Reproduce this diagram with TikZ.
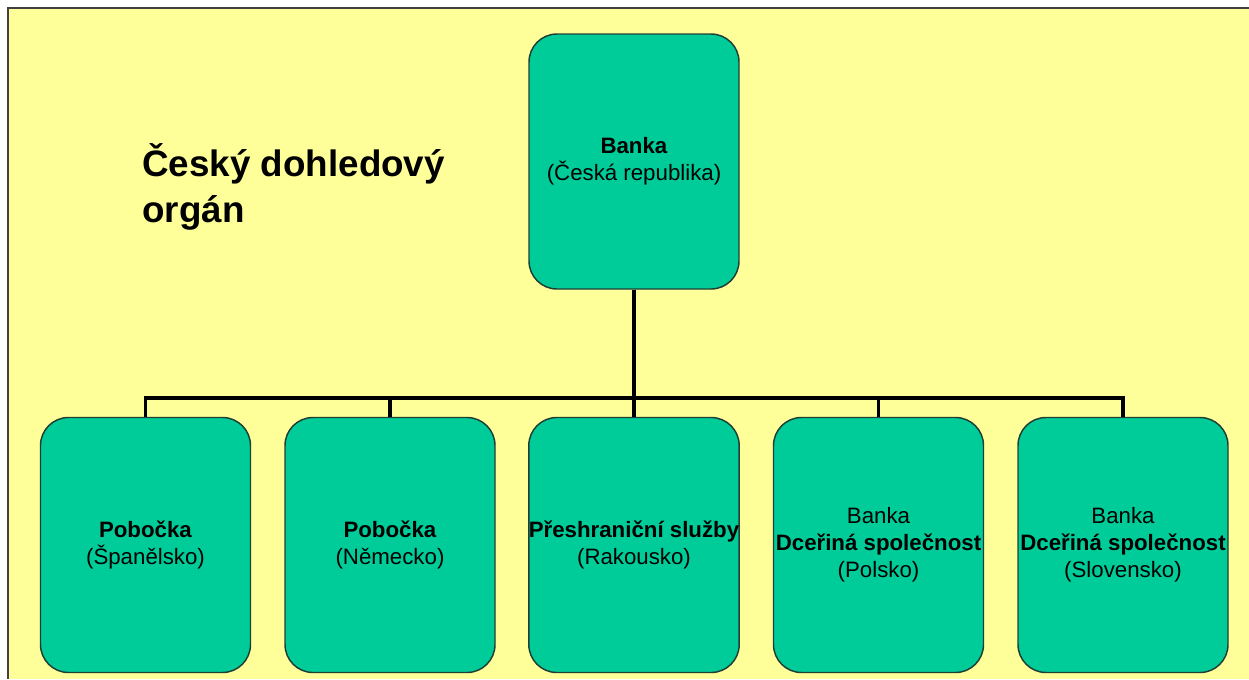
\documentclass[tikz,border=0pt]{standalone}
\usepackage{fontspec}
\setmainfont{Liberation Sans}
\usepackage{tikz}
\usetikzlibrary{positioning}
\definecolor{panelyellow}{HTML}{FFFF99}
\definecolor{boxgreen}{HTML}{00CC99}
\definecolor{boxedge}{HTML}{1F3F35}

\begin{document}
\begin{tikzpicture}[x=0.75pt, y=-0.75pt,
    box/.style={draw=boxedge, line width=1.1pt, fill=boxgreen, rounded corners=21pt,
        minimum width=157.5pt, minimum height=191.25pt, align=center, inner sep=0pt,
        font=\fontsize{16.7}{20.3}\selectfont, text=black},
    spoj/.style={line width=2.5pt, black}]
    % Page and yellow panel
    \useasboundingbox (0,0) rectangle (1249,679);
    \fill[white] (0,0) rectangle (1249,679);
    \fill[panelyellow] (8,8) rectangle (1249,679);
    \draw[black!75, line width=1.6pt] (8,679) -- (8,8) -- (1249,8);

    % Supervisor title
    \node[anchor=base west, align=left, inner sep=0pt,
        font=\bfseries\fontsize{27.6}{34.5}\selectfont] (organ) at (142,222)
        {Český dohledový\\orgán};

    % Parent bank
    \node[box] (banka) at (634,161.5) {\textbf{Banka}\\(Česká republika)};

    % Branches, services and subsidiaries
    \node[box] (spanelsko) at (145.5,545) {\textbf{Pobočka}\\(Španělsko)};
    \node[box] (nemecko) at (390,545) {\textbf{Pobočka}\\(Německo)};
    \node[box] (rakousko) at (634,545) {\textbf{Přeshraniční služby}\\(Rakousko)};
    \node[box] (polsko) at (878.5,545) {Banka\\\textbf{Dceřiná společnost}\\(Polsko)};
    \node[box] (slovensko) at (1123,545) {Banka\\\textbf{Dceřiná společnost}\\(Slovensko)};

    % Tree lines
    \coordinate (rozvod) at (634,398);
    \foreach \n in {spanelsko,nemecko,rakousko,polsko,slovensko}
        \draw[spoj] (banka.south) |- (rozvod -| \n.north) -- (\n.north);
\end{tikzpicture}
\end{document}
